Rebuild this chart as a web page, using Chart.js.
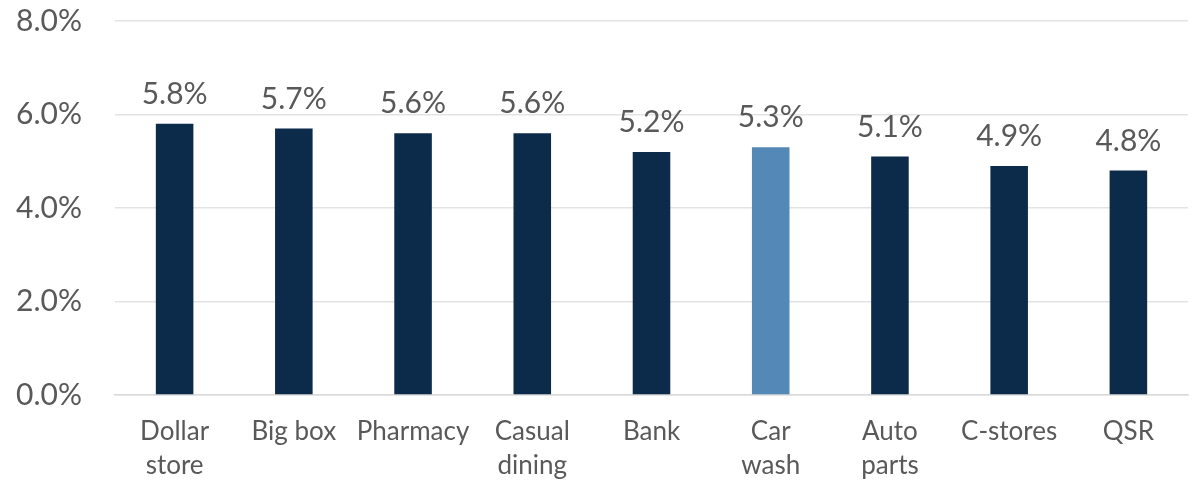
<!DOCTYPE html>
<html>
<head>
<meta charset="utf-8">
<script src="https://cdn.jsdelivr.net/npm/chart.js@4/dist/chart.umd.min.js"></script>
<style>
  html, body { margin: 0; padding: 0; background: #ffffff; }
  #wrap { width: 1199px; height: 482px; position: relative; }
</style>
</head>
<body>
<div id="wrap"><canvas id="chart"></canvas></div>
<script>
// Cap rates by property type
const categories = [['Dollar', 'store'], 'Big box', 'Pharmacy', ['Casual', 'dining'], 'Bank', ['Car', 'wash'], ['Auto', 'parts'], 'C-stores', 'QSR'];
const capRates = [5.8, 5.7, 5.6, 5.6, 5.2, 5.3, 5.1, 4.9, 4.8];
const highlightIndex = 5; // Car wash
const yTicks = [0, 2, 4, 6, 8];

const navy = '#0c2a4a';
const steel = '#5388b7';
const textColor = '#595959';
const fontFamily = '"Source Sans Pro", Lato, "Open Sans", sans-serif';

const barColors = capRates.map((_, i) => i === highlightIndex ? steel : navy);

// Writes each bar's value above it
const valueLabels = {
  id: 'valueLabels',
  afterDatasetsDraw(chart) {
    const ctx = chart.ctx;
    const meta = chart.getDatasetMeta(0);
    ctx.save();
    ctx.font = '30px ' + fontFamily;
    ctx.fillStyle = textColor;
    ctx.textAlign = 'center';
    ctx.textBaseline = 'alphabetic';
    meta.data.forEach((bar, i) => {
      ctx.fillText(capRates[i].toFixed(1) + '%', bar.x, bar.y - 20);
    });
    ctx.restore();
  }
};

new Chart(document.getElementById('chart'), {
  type: 'bar',
  data: {
    labels: categories,
    datasets: [{
      data: capRates,
      backgroundColor: barColors,
      borderWidth: 0,
      categoryPercentage: 1,
      barPercentage: 0.315
    }]
  },
  options: {
    responsive: true,
    maintainAspectRatio: false,
    animation: false,
    layout: { padding: { top: 21, right: 11, left: 0, bottom: 0 } },
    plugins: {
      legend: { display: false },
      tooltip: { enabled: false }
    },
    scales: {
      x: {
        grid: { display: false },
        border: { display: true, color: '#d9d9d9', width: 1.5 },
        ticks: {
          color: textColor,
          font: { family: fontFamily, size: 26, lineHeight: 1.3 },
          padding: 12,
          maxRotation: 0,
          autoSkip: false
        },
        afterFit(scale) {
          scale.height = 87;
          scale.paddingLeft = 0;
          scale.paddingRight = 0;
        }
      },
      y: {
        min: 0,
        max: 8,
        afterBuildTicks(scale) { scale.ticks = yTicks.map(v => ({ value: v })); },
        grid: { color: '#e3e3e3', lineWidth: 1.5, drawTicks: false },
        border: { display: false },
        ticks: {
          color: textColor,
          font: { family: fontFamily, size: 30 },
          padding: 33,
          callback: v => v.toFixed(1) + '%'
        },
        afterFit(scale) {
          scale.width = 115;
          scale.paddingTop = 0;
          scale.paddingBottom = 0;
        }
      }
    }
  },
  plugins: [valueLabels]
});
</script>
</body>
</html>
